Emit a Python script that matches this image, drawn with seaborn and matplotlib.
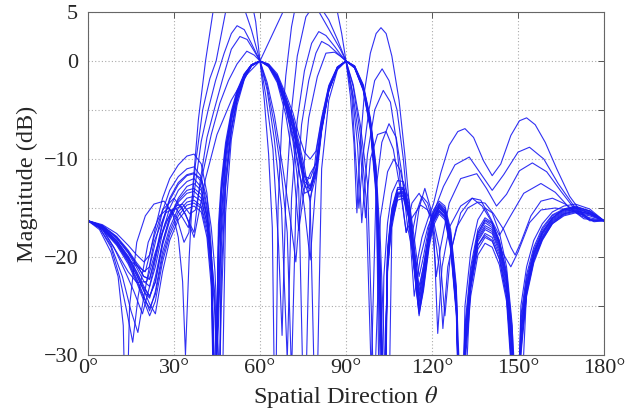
import numpy as np
import pandas as pd
import seaborn as sns
import matplotlib
matplotlib.use("Agg")
import matplotlib.pyplot as plt

# ---------------- data ----------------
main_theta = [0, 5, 10, 14, 17, 19.5, 21.5, 23.5, 26, 28.5,
              31.5, 34.5, 37, 39.5, 41.5, 43, 44.3, 45.5, 46.5, 48,
              50, 52, 54.5, 57, 60, 63, 66, 69, 71.5, 73.5,
              75.5, 77.5, 79.5, 81.5, 84, 87, 90, 93, 96, 98.5,
              100.5, 102, 103.2, 104.5, 106, 108, 110, 112, 114, 115.5,
              117, 119, 120.5, 122.5, 124.5, 126.5, 128.5, 130, 131.5, 133.5,
              136, 138.5, 141, 143.5, 146, 148, 149.5, 151, 153, 155.5,
              158.5, 162, 166, 170, 175, 180]

main_m1 = [-16.3, -16.7, -17.6, -18.8, -19.8, -20.5, -19.8, -17.0, -14.0, -12.0,
           -10.6, -9.7, -9.5, -10.5, -13.5, -19.0, -40.0, -16.7, -12.3, -8.3,
           -5.1, -3.0, -1.3, -0.4, 0.0, -0.3, -1.3, -3.4, -5.3, -7.5,
           -9.3, -10.0, -9.2, -5.8, -2.5, -0.6, 0.0, -0.5, -2.4, -5.8,
           -10.8, -45.0, -22.0, -16.5, -13.5, -12.2, -12.3, -14.2, -18.5, -22.0,
           -20.0, -16.8, -15.2, -14.3, -14.8, -17.2, -23.0, -45.0, -25.0, -19.5,
           -16.2, -15.0, -15.5, -17.5, -21.0, -27.0, -42.0, -25.0, -21.0, -18.3,
           -16.6, -15.4, -14.8, -14.6, -15.1, -16.3]
main_m2 = [-16.3, -16.8, -17.9, -19.3, -20.6, -21.5, -21.0, -18.5, -15.3, -13.2,
           -11.8, -11.0, -10.8, -11.8, -14.8, -20.0, -36.0, -20.0, -13.5, -9.0,
           -5.5, -3.2, -1.4, -0.4, 0.0, -0.4, -1.5, -3.8, -6.0, -8.6,
           -11.5, -12.8, -11.0, -6.6, -2.9, -0.7, 0.0, -0.6, -2.6, -6.1,
           -11.5, -21.0, -42.0, -19.0, -15.0, -12.9, -12.9, -15.0, -20.0, -23.5,
           -21.0, -17.5, -15.6, -14.6, -15.2, -17.8, -24.0, -40.0, -27.0, -21.0,
           -17.2, -16.0, -16.5, -18.3, -21.8, -28.0, -45.0, -26.0, -21.8, -19.0,
           -17.0, -15.7, -15.1, -14.8, -15.3, -16.3]
main_m3 = [-16.3, -16.9, -18.1, -19.6, -21.1, -22.5, -23.0, -21.0, -17.5, -15.0,
           -13.2, -12.3, -12.0, -12.9, -15.8, -20.5, -34.0, -24.0, -15.5, -9.8,
           -5.8, -3.4, -1.5, -0.4, 0.0, -0.4, -1.6, -4.1, -6.4, -9.2,
           -12.5, -14.0, -11.8, -7.0, -3.0, -0.7, 0.0, -0.6, -2.7, -6.3,
           -12.0, -23.0, -40.0, -20.0, -15.6, -13.4, -13.3, -15.4, -20.8, -24.5,
           -22.0, -18.0, -16.0, -14.8, -15.4, -18.0, -24.5, -42.0, -28.0, -22.0,
           -17.8, -16.5, -17.0, -18.8, -22.3, -29.0, -45.0, -27.0, -22.5, -19.5,
           -17.4, -16.0, -15.2, -15.0, -15.4, -16.3]
main_m4 = [-16.3, -17.0, -18.4, -20.1, -21.8, -23.5, -24.2, -22.0, -18.5, -16.0,
           -14.2, -13.2, -13.0, -13.6, -16.0, -19.5, -25.0, -40.0, -22.0, -12.5,
           -7.0, -4.0, -1.8, -0.5, 0.0, -0.5, -2.0, -4.8, -8.2, -13.0,
           -40.0, -14.5, -9.5, -6.0, -2.6, -0.6, 0.0, -0.7, -2.9, -6.8,
           -13.0, -26.0, -38.0, -20.5, -16.0, -13.6, -13.5, -15.8, -21.5, -25.5,
           -22.5, -18.2, -16.2, -15.0, -15.6, -18.5, -25.0, -40.0, -29.0, -22.5,
           -18.2, -17.0, -17.4, -19.2, -22.8, -30.0, -45.0, -28.0, -23.0, -19.8,
           -17.7, -16.2, -15.4, -15.1, -15.5, -16.3]
main_m5 = [-16.3, -17.1, -18.6, -20.4, -22.2, -24.0, -25.5, -23.5, -19.5, -17.0,
           -15.0, -14.0, -13.8, -14.3, -16.5, -19.8, -24.0, -38.0, -25.0, -13.0,
           -7.2, -4.1, -1.8, -0.5, 0.0, -0.5, -1.9, -4.6, -7.5, -10.8,
           -15.0, -20.3, -12.5, -7.2, -3.1, -0.8, 0.0, -0.7, -3.0, -7.0,
           -13.8, -32.0, -36.0, -21.0, -16.4, -13.9, -13.8, -16.0, -21.8, -26.0,
           -23.0, -18.5, -16.4, -15.3, -15.9, -18.8, -25.5, -38.0, -30.0, -23.0,
           -18.8, -17.6, -18.0, -19.8, -23.5, -32.0, -40.0, -29.0, -23.5, -20.2,
           -18.0, -16.4, -15.6, -15.3, -15.6, -16.3]
main_m6 = [-16.3, -17.2, -18.8, -20.7, -22.6, -24.5, -26.0, -24.5, -20.5, -17.8,
           -15.8, -14.7, -14.5, -15.0, -17.5, -22.0, -40.0, -19.0, -13.5, -9.2,
           -5.5, -3.5, -1.5, -0.4, 0.0, -0.6, -2.2, -5.5, -10.0, -17.3,
           -13.0, -11.5, -10.5, -6.5, -2.8, -0.7, 0.0, -0.6, -2.8, -6.6,
           -12.8, -25.0, -45.0, -21.5, -16.5, -14.2, -14.0, -16.2, -22.0, -25.8,
           -23.5, -19.0, -16.8, -15.6, -16.2, -19.2, -26.0, -45.0, -31.0, -24.0,
           -19.8, -18.6, -19.0, -20.8, -24.5, -33.0, -38.0, -30.0, -24.0, -20.6,
           -18.3, -16.6, -15.7, -15.4, -15.7, -16.3]
main_m7 = [-16.3, -16.9, -18.3, -19.9, -21.5, -23.0, -24.0, -22.5, -18.5, -16.0,
           -14.0, -12.8, -12.5, -13.2, -15.8, -20.0, -33.0, -27.0, -17.5, -10.8,
           -6.2, -3.6, -1.6, -0.45, 0.0, -0.4, -1.5, -3.7, -5.8, -8.2,
           -10.8, -14.5, -40.0, -11.0, -4.0, -0.9, 0.0, -0.6, -2.6, -6.2,
           -11.8, -22.0, -42.0, -19.5, -15.3, -13.1, -13.1, -15.3, -20.5, -24.0,
           -21.5, -17.8, -15.9, -14.9, -15.5, -18.2, -24.8, -40.0, -28.5, -22.2,
           -18.0, -16.8, -17.2, -19.0, -22.5, -29.5, -45.0, -27.5, -22.8, -19.6,
           -17.6, -16.1, -15.3, -15.0, -15.5, -16.3]
main_m8 = [-16.3, -16.8, -18.0, -19.5, -20.8, -22.0, -22.2, -20.0, -16.6, -14.2,
           -12.6, -11.7, -11.5, -12.0, -14.0, -17.0, -21.5, -30.0, -40.0, -15.5,
           -8.0, -4.5, -1.9, -0.5, 0.0, -0.4, -1.7, -4.2, -6.8, -9.5,
           -11.8, -12.0, -10.4, -6.4, -2.8, -0.7, 0.0, -0.5, -2.5, -6.0,
           -11.0, -18.5, -28.0, -45.0, -17.0, -13.8, -13.0, -14.6, -19.5, -23.0,
           -21.0, -17.2, -15.5, -14.5, -15.0, -17.5, -23.5, -35.0, -35.0, -22.5,
           -17.6, -16.2, -16.6, -18.4, -21.5, -27.5, -35.0, -36.0, -23.5, -19.8,
           -17.5, -16.0, -15.1, -14.9, -15.3, -16.3]
main_m9 = [-16.3, -17.0, -18.5, -20.3, -21.9, -23.4, -24.8, -25.8, -21.5, -18.3,
           -16.2, -15.1, -14.8, -15.4, -18.0, -23.0, -42.0, -19.0, -13.5, -9.0,
           -5.6, -3.3, -1.4, -0.4, 0.0, -0.5, -1.8, -4.4, -7.0, -9.8,
           -12.8, -13.0, -11.4, -6.9, -3.0, -0.7, 0.0, -0.6, -2.8, -6.5,
           -12.5, -24.0, -36.0, -20.5, -15.8, -13.5, -13.6, -15.8, -21.5, -25.2,
           -22.8, -18.4, -16.3, -15.2, -15.8, -18.6, -25.3, -42.0, -29.5, -23.0,
           -18.8, -17.8, -18.3, -20.2, -24.0, -31.0, -42.0, -29.0, -23.5, -20.3,
           -18.2, -16.6, -15.8, -15.5, -15.8, -16.3]
main_m10 = [-16.3, -16.8, -18.0, -19.4, -20.8, -22.0, -22.3, -19.8, -16.4, -14.0,
            -12.4, -11.6, -11.4, -12.3, -15.2, -20.5, -38.0, -18.0, -13.0, -8.8,
            -5.4, -3.2, -1.4, -0.4, 0.0, -0.4, -1.5, -3.9, -6.2, -8.9,
            -11.8, -13.2, -11.3, -6.8, -2.9, -0.7, 0.0, -0.6, -2.7, -6.2,
            -11.8, -22.0, -38.0, -19.5, -15.2, -13.1, -13.0, -15.1, -20.3, -24.0,
            -21.5, -17.7, -15.8, -14.7, -15.3, -17.9, -24.2, -41.0, -27.5, -21.5,
            -17.5, -16.3, -16.8, -18.6, -22.0, -28.5, -44.0, -26.5, -22.2, -19.3,
            -17.2, -15.8, -15.2, -14.9, -15.3, -16.3]
main_m11 = [-16.3, -17.1, -18.7, -20.5, -22.4, -24.2, -25.2, -23.8, -20.0, -17.4,
            -15.4, -14.4, -14.2, -14.8, -17.0, -20.5, -26.0, -42.0, -19.0, -11.8,
            -6.8, -3.9, -1.7, -0.5, 0.0, -0.5, -2.0, -4.8, -7.8, -11.2,
            -13.5, -13.2, -11.6, -7.0, -3.0, -0.8, 0.0, -0.7, -2.9, -6.8,
            -13.2, -28.0, -40.0, -21.0, -16.2, -13.8, -13.7, -15.9, -21.6, -25.6,
            -23.2, -18.6, -16.5, -15.4, -16.0, -18.9, -25.6, -40.0, -30.0, -23.3,
            -19.2, -18.0, -18.4, -20.2, -24.0, -32.0, -40.0, -29.5, -23.8, -20.4,
            -18.1, -16.5, -15.6, -15.3, -15.6, -16.3]
main_m12 = [-16.3, -17.0, -18.3, -20.0, -21.6, -23.2, -24.0, -22.6, -18.8, -16.3,
            -14.4, -13.5, -13.3, -14.0, -16.6, -21.5, -36.0, -25.0, -16.0, -10.0,
            -5.9, -3.5, -1.5, -0.4, 0.0, -0.5, -1.7, -4.3, -6.8, -9.6,
            -12.3, -12.8, -11.0, -6.8, -2.9, -0.7, 0.0, -0.6, -2.7, -6.4,
            -12.2, -23.5, -39.0, -20.2, -15.7, -13.5, -13.4, -15.6, -21.0, -24.8,
            -22.3, -18.2, -16.1, -15.0, -15.6, -18.3, -24.9, -43.0, -28.8, -22.5,
            -18.4, -17.2, -17.6, -19.5, -23.2, -30.0, -43.0, -28.0, -23.0, -20.0,
            -17.9, -16.3, -15.5, -15.2, -15.6, -16.3]

outlier_o1 = [(0, -16.3), (4, -17.2), (8, -19.5), (10.5, -22), (12.3, -27), (13.3, -40),
              (14.5, -25), (17, -18.5), (20, -15.8), (23, -14.6), (26.5, -14.3), (29.5, -15.5),
              (31.5, -18), (33, -22.5), (34, -30), (35.3, -20), (36.6, -12.7), (38.5, -6),
              (41, 0), (43.6, 5), (46.5, 8), (50, 9.5), (53.5, 9), (56.5, 7), (58.5, 4),
              (60, 0), (61.5, -4), (63, -9.5), (64.3, -17), (65.3, -40), (66.3, -15),
              (67.5, -7), (69, -1.5), (71, 3.5), (74, 8), (78, 10), (82, 9.5), (85, 7.5),
              (87, 5), (88.5, 2.8), (90, 0), (91.5, -3.5), (92.8, -8.5), (93.8, -15.5),
              (95, -8.5), (96.5, -3), (98.5, 0.8), (100.5, 2.8), (102.2, 3.4), (104, 2.8),
              (106, 0.5), (108.5, -4), (110.5, -9.5), (112.5, -16), (114.5, -21), (116.5, -18),
              (118.5, -16.2), (120.5, -14.6), (123, -11.5), (126, -8.6), (129, -7.2),
              (131.5, -6.9), (134.5, -7.8), (138, -10.2), (141, -11.7), (144, -10.5),
              (147.5, -7.6), (150.5, -6.1), (153, -5.8), (156, -6.5), (159.5, -8.3),
              (163.5, -11), (168, -13.8), (172.5, -15.6), (176.5, -16.4), (180, -16.3)]
outlier_o2 = [(0, -16.3), (4, -17), (8, -19), (11, -22), (13.5, -25.5), (15.6, -28.7),
              (17.5, -24), (21, -18.5), (25, -15.8), (28, -15), (31, -16), (33.5, -18.5),
              (35.2, -17.5), (37.5, -10.5), (40, -5), (42.5, -1.8), (44.7, 0), (48, 5),
              (51, 6.5), (54, 5.8), (57, 3.2), (60, 0), (62, -3.5), (64.5, -9), (66.5, -19),
              (67.7, -28), (69, -14), (71, -5), (73, 0.5), (76, 4.5), (79, 5.8), (81, 4.8),
              (84.5, 3), (88, 1.2), (90, 0), (92, -3.5), (94.5, -15), (96, -9.5), (98, -5),
              (100, -2), (102.6, -0.8), (105, -2), (107.8, -5), (110, -10), (112, -16.5),
              (113.8, -24), (116, -20), (118.5, -17), (120.5, -15.5), (124, -12.8),
              (128, -10.6), (133, -9.8), (137, -11.5), (141, -13.2), (145, -11.6),
              (150, -9.3), (154, -8.8), (159, -10), (164, -12.5), (170, -15), (175, -16.2),
              (180, -16.3)]
outlier_o3 = [(0, -16.3), (4, -17), (8, -18.8), (12, -22), (15, -25.5), (17.4, -27.7),
              (19.5, -24), (23, -18.5), (27, -15.5), (30.5, -15), (33, -16), (35, -17),
              (37, -13.5), (39.5, -8.2), (41.9, -5), (44.5, -2), (47.5, 0.8), (50, 2.8),
              (52, 3.6), (54.5, 3.2), (57, 1.8), (60, 0), (62.5, -3), (65, -8), (67.5, -15),
              (69.5, -30.5), (71, -14), (73, -6), (75.5, -1), (78, 1.8), (80.5, 3), (83, 2.6),
              (86, 1.5), (88, 0.7), (90, 0), (92, -2.8), (94, -8.5), (95.5, -16.5),
              (97.5, -9.5), (100, -5), (103, -3), (105.5, -4.2), (107.5, -8), (109.5, -14),
              (111, -17.5), (113, -14.5), (115.5, -13.5), (118, -14.8), (120, -16.5),
              (121.5, -22), (123, -19), (126, -14.5), (130, -12), (135.6, -11.5), (139, -13),
              (142.5, -14.8), (146, -13.6), (150.5, -11.2), (155, -10.4), (160, -11.3),
              (165, -13.3), (170, -15.2), (175, -16.3), (180, -16.3)]
outlier_o4 = [(0, -16.3), (5, -17.1), (9, -19), (13, -21.5), (16, -23.5), (19, -25.8),
              (21.5, -23), (25, -18.3), (29, -15.3), (32.5, -14.8), (35, -16.3), (37, -17.5),
              (39, -12.5), (41.5, -7.8), (44, -5), (47, -1.8), (50, 1.2), (53, 2.5),
              (55.5, 2.2), (58, 1), (60, 0), (62.5, -2.6), (65, -6.5), (67.5, -11.5),
              (69.5, -17.5), (71, -32), (72.5, -15), (74.5, -6.5), (77, -2), (79.5, 0.8),
              (81.5, 2), (84, 1.6), (87, 0.8), (90, 0), (92.5, -2.6), (95, -7.5), (97, -14),
              (98.8, -32), (100.5, -13), (102.5, -8.3), (105, -6.4), (107.5, -7.8),
              (109.5, -11.5), (111.5, -17), (113.3, -19.5), (115.5, -15), (117.5, -13),
              (119.5, -15), (120.7, -18), (122, -27.8), (123.5, -21), (126, -17), (130, -14.8),
              (134, -14), (137, -14.2), (140, -15.8), (143.5, -17.8), (147, -16), (152, -13.5),
              (158, -12.5), (163, -13.4), (168, -15), (173, -16.1), (180, -16.3)]
outlier_o5 = [(0, -16.3), (5, -17.2), (10, -19.5), (14, -21.5), (17, -22.6), (20.5, -22.5),
              (23.5, -19.5), (27, -16.5), (30.5, -14.8), (33, -14.6), (35.5, -15.6),
              (37.5, -15.2), (40, -11.5), (43, -7.5), (46, -4.3), (49, -2), (52, -0.3),
              (55.4, 1), (58, 0.6), (60, 0), (62.5, -2.2), (65, -5.5), (68, -11), (70.5, -16),
              (72.5, -20.5), (74.5, -13), (77, -5.8), (80, -1.6), (83, 0.8), (86, 0.9),
              (88, 0.5), (90, 0), (92.5, -2.4), (95, -6.5), (97.5, -12.5), (99.8, -35),
              (102, -16), (104.5, -11.3), (106.7, -10), (109, -11.2), (111, -14), (112.8, -18),
              (114.5, -15.5), (116.5, -13.8), (118.5, -14.5), (120.5, -16.8), (122.5, -21),
              (123.8, -27.3), (125.5, -21), (128.5, -17), (132.5, -15), (136, -14.4),
              (138.5, -14.5), (141.5, -15.6), (145, -17.2), (147.5, -19), (149, -19.8),
              (151, -18.5), (154.5, -15.8), (158, -14.3), (162, -14), (166.5, -14.6),
              (172, -15.8), (176, -16.3), (180, -16.3)]
outlier_o6 = [(0, -16.3), (5, -17), (10, -18.6), (15, -20.5), (20, -21.5), (23, -18),
              (26, -15.2), (30, -14), (34, -15.6), (37, -18), (41, -12), (45, -7.5), (50, -4),
              (55, -1.5), (60, 0), (64, 2.5), (68, 5), (72, 7), (76, 7.2), (80, 6), (84, 4.2),
              (87, 2.2), (90, 0), (92.5, -3.5), (95, -9), (96.8, -16), (98.5, -10), (101, -7.5),
              (104, -7.2), (106.5, -9), (109, -13.2), (111, -17.5), (113, -16), (116, -14.7),
              (118.5, -15.2), (120.5, -16.3), (122.5, -19), (124.5, -26), (126.5, -19.5),
              (130, -15.5), (134, -14), (137.5, -14.8), (141, -16.5), (144.5, -19.5),
              (147.5, -21), (150, -19.5), (154, -16.5), (158, -15.2), (163, -15), (169, -15.3),
              (175, -16), (180, -16.3)]

x_ticks = [0, 30, 60, 90, 120, 150, 180]
x_tick_labels = ["0°", "30°", "60°", "90°", "120°", "150°", "180°"]
y_ticks = [-30, -25, -20, -15, -10, -5, 0, 5]
y_tick_labels = ["\u221230", "", "\u221220", "", "\u221210", "", "0", "5"]

# ---------------- build long table ----------------
rows = []
mains = [main_m1, main_m2, main_m3, main_m4, main_m5, main_m6, main_m7, main_m8,
         main_m9, main_m10, main_m11, main_m12]
for i, vals in enumerate(mains):
    for t, v in zip(main_theta, vals):
        rows.append(("m%d" % i, t, v))
outs = [outlier_o1, outlier_o2, outlier_o3, outlier_o4, outlier_o5, outlier_o6]
for i, pts in enumerate(outs):
    for t, v in pts:
        rows.append(("o%d" % i, t, v))
df = pd.DataFrame(rows, columns=["curve", "theta", "dB"])

# ---------------- plot ----------------
sns.set_style("white")
plt.rcParams["font.family"] = "serif"
plt.rcParams["font.serif"] = ["Liberation Serif", "Times New Roman", "DejaVu Serif"]
plt.rcParams["mathtext.fontset"] = "stix"

fig = plt.figure(figsize=(6.41, 4.16), dpi=100)
ax = fig.add_axes([88 / 641, 1 - 355 / 416, (604 - 88) / 641, (355 - 12) / 416])

sns.lineplot(data=df, x="theta", y="dB", units="curve", estimator=None, sort=False,
             color=(0.1, 0.1, 0.95), linewidth=0.8, alpha=0.9, ax=ax, legend=False)

ax.set_xlim(0, 180)
ax.set_ylim(-30, 5)
ax.set_xticks(x_ticks)
ax.set_xticklabels(x_tick_labels)
ax.set_yticks(y_ticks)
ax.set_yticklabels(y_tick_labels)
ax.grid(True, linestyle=(0, (1, 2)), color="#aaaaaa", linewidth=0.8)
ax.tick_params(direction="in", length=4, width=0.7, color="#555555",
               top=True, right=True, labelsize=16)
ax.tick_params(axis="x", pad=3)
ax.tick_params(axis="y", pad=7)
for s in ax.spines.values():
    s.set_color("#666666")
    s.set_linewidth(0.8)
ax.set_xlabel(r"Spatial Direction $\theta$", fontsize=17.5, labelpad=4)
ax.set_ylabel("Magnitude (dB)", fontsize=17.5, labelpad=4)

fig.savefig("out.png", dpi=100)
